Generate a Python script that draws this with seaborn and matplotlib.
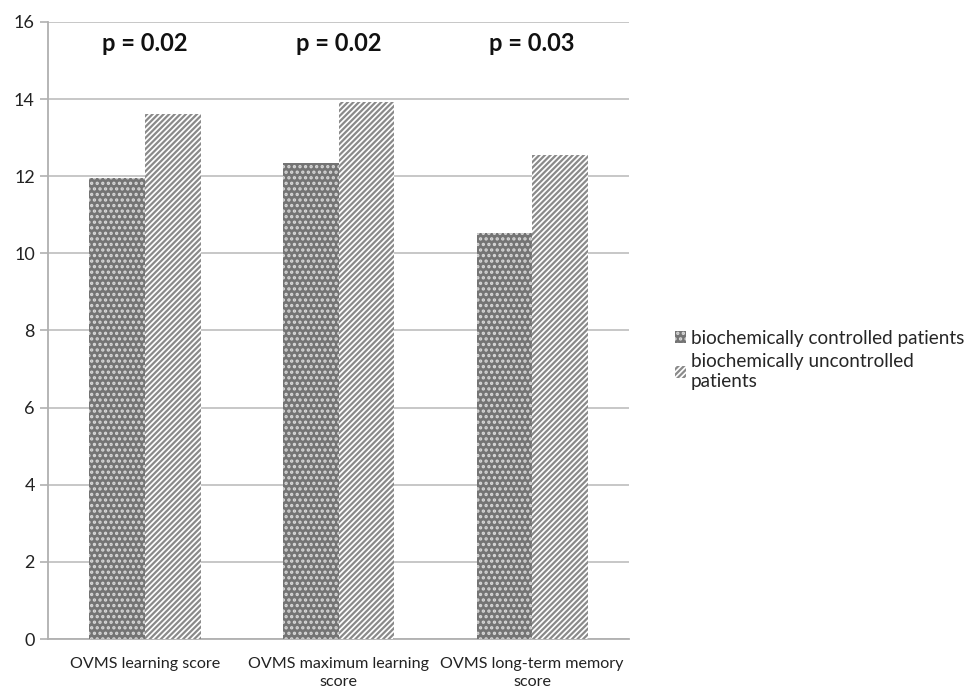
import numpy as np
import pandas as pd
import seaborn as sns
import matplotlib.pyplot as plt
from matplotlib.patches import Patch

# data
categories = ["OVMS learning score", "OVMS maximum learning\nscore", "OVMS long-term memory\nscore"]
groups = ["biochemically controlled patients", "biochemically uncontrolled\npatients"]
controlled = [11.95, 12.35, 10.53]
uncontrolled = [13.62, 13.92, 12.56]
p_labels = ["p = 0.02", "p = 0.02", "p = 0.03"]

df = pd.DataFrame({
    "category": categories * 2,
    "group": [groups[0]] * 3 + [groups[1]] * 3,
    "score": controlled + uncontrolled,
})

sns.set_style("white")
plt.rcParams["font.family"] = ["Lato", "DejaVu Sans"]
plt.rcParams["hatch.linewidth"] = 1.6

fig = plt.figure(figsize=(9.73, 6.93), dpi=100)
ax = fig.add_axes([0.0493, 0.0779, 0.5972, 0.8904])

sns.barplot(data=df, x="category", y="score", hue="group", width=0.575,
            palette=["#767676", "white"], ax=ax, legend=False, zorder=3)

dot_kw = dict(facecolor="#747474", edgecolor="#d8d8d8", hatch="...", linewidth=0)
line_kw = dict(facecolor="white", edgecolor="#8a8a8a", hatch="//////", linewidth=0)
for bar in ax.containers[0]:
    bar.set(**dot_kw)
for bar in ax.containers[1]:
    bar.set(**line_kw)

ax.set_ylim(0, 16)
ax.set_xlim(-0.5, 2.5)
ax.set_yticks(np.arange(0, 17, 2))
ax.yaxis.grid(True, color="#b8b8b8", linewidth=1.1, zorder=0)
ax.set_axisbelow(True)

for sp in ["top", "right"]:
    ax.spines[sp].set_visible(False)
for sp in ["left", "bottom"]:
    ax.spines[sp].set_color("#b0b0b0")
    ax.spines[sp].set_linewidth(1.3)

ax.set_xticks([-0.5, 0.5, 1.5, 2.5], minor=True)
ax.tick_params(axis="x", which="minor", length=6, color="#b0b0b0", width=1.2)
ax.tick_params(axis="x", which="major", length=0, pad=13, labelsize=11.6, colors="#222222")
ax.tick_params(axis="y", length=6, color="#b0b0b0", width=1.2, labelsize=13, colors="#222222", left=True)
for lab in ax.get_xticklabels():
    lab.set_linespacing(1.35)
ax.set_xlabel("")
ax.set_ylabel("")

for i, txt in enumerate(p_labels):
    ax.text(i, 15.43, txt, ha="center", va="center", fontsize=17, fontweight="bold", color="#111111")

handles = [Patch(**dot_kw, label=groups[0]), Patch(**line_kw, label=groups[1])]
fig.legend(handles=handles, loc="upper left", bbox_to_anchor=(0.686, 0.535), frameon=False,
           fontsize=13.6, handlelength=0.6, handleheight=0.6, handletextpad=0.25,
           labelspacing=0.35, borderaxespad=0)

fig.savefig("out.png", dpi=100)
